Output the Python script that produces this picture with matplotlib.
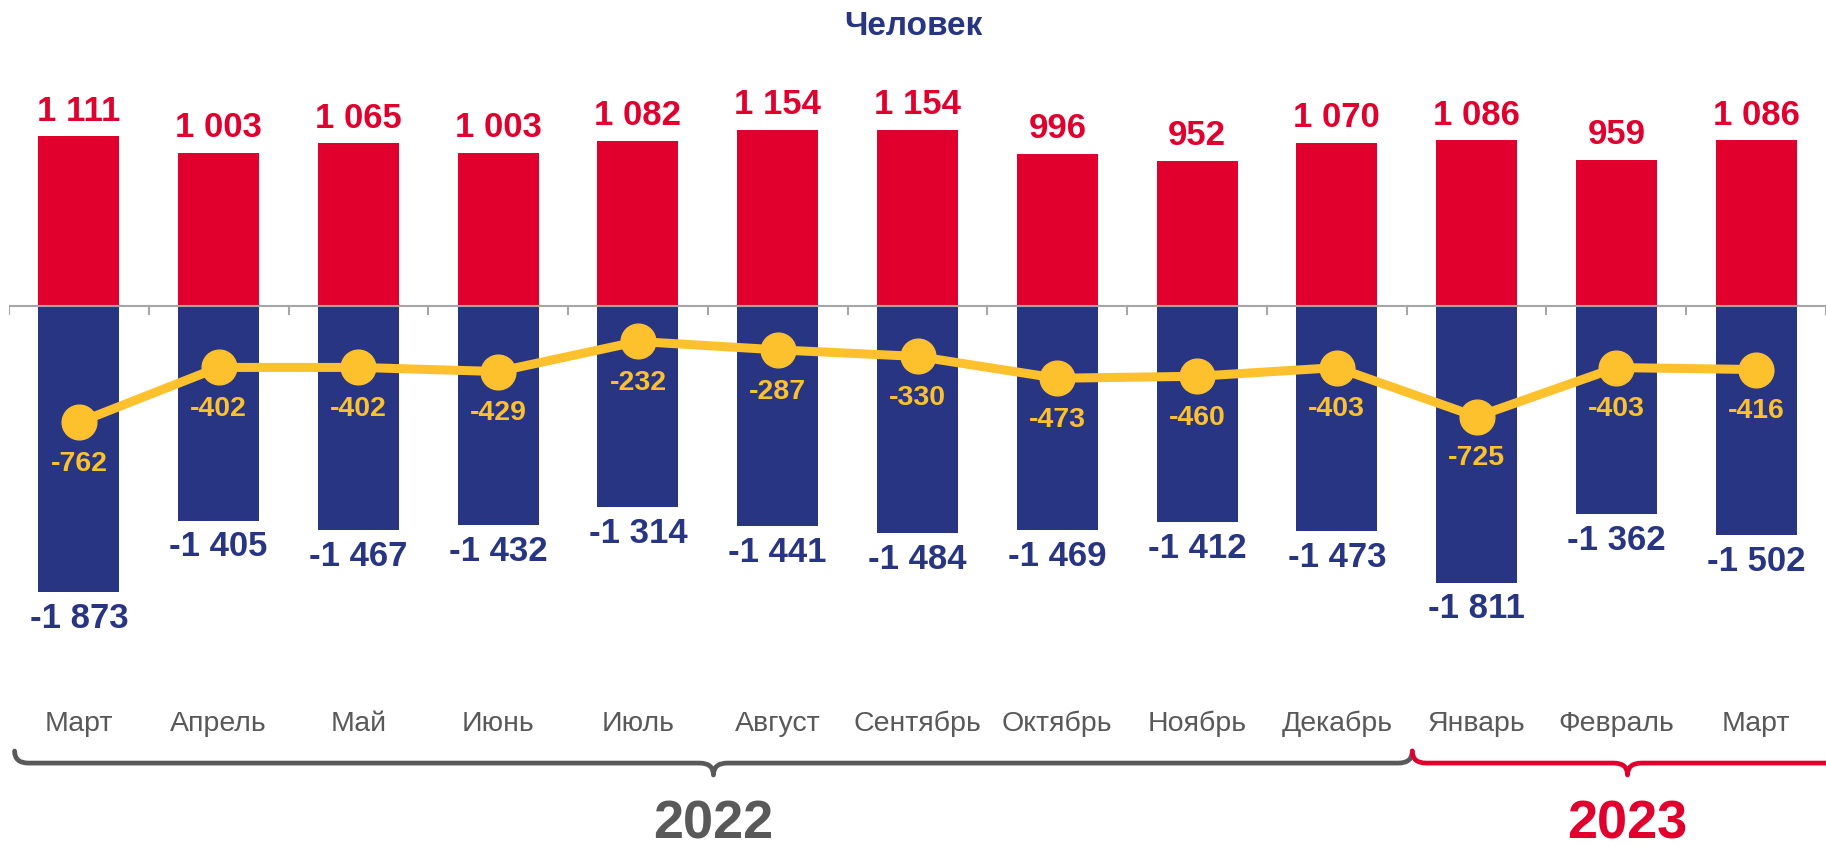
import numpy as np
import matplotlib
matplotlib.use('Agg')
import matplotlib.pyplot as plt
from matplotlib.path import Path
from matplotlib.patches import PathPatch

plt.rcParams['font.family'] = ['Liberation Sans', 'DejaVu Sans']

months = ['Март', 'Апрель', 'Май', 'Июнь', 'Июль', 'Август', 'Сентябрь',
          'Октябрь', 'Ноябрь', 'Декабрь', 'Январь', 'Февраль', 'Март']
arrivals = [1111, 1003, 1065, 1003, 1082, 1154, 1154, 996, 952, 1070, 1086, 959, 1086]
departures = [-1873, -1405, -1467, -1432, -1314, -1441, -1484, -1469, -1412, -1473, -1811, -1362, -1502]
net = [-762, -402, -402, -429, -232, -287, -330, -473, -460, -403, -725, -403, -416]
years = ['2022', '2023']
year_spans = [(0, 9), (10, 12)]

RED = '#E1002D'
NAVY = '#283583'
GOLD = '#FDC12E'
GRAY = '#595959'


def fmt(v):
    s = f'{abs(v):,}'.replace(',', ' ')
    return ('-' if v < 0 else '') + s


def brace(ax, x0, x1, y_top, y_mid, y_tip, color, r=0.1):
    xm = (x0 + x1) / 2
    verts = [(x0, y_top), (x0, y_mid), (x0 + r, y_mid),
             (xm - r, y_mid),
             (xm, y_mid), (xm, y_tip),
             (xm, y_mid), (xm + r, y_mid),
             (x1 - r, y_mid),
             (x1, y_mid), (x1, y_top)]
    codes = [Path.MOVETO, Path.CURVE3, Path.CURVE3,
             Path.LINETO,
             Path.CURVE3, Path.CURVE3,
             Path.CURVE3, Path.CURVE3,
             Path.LINETO,
             Path.CURVE3, Path.CURVE3]
    ax.add_patch(PathPatch(Path(verts, codes), fill=False, edgecolor=color,
                           lw=3.4, capstyle='round', joinstyle='round',
                           clip_on=False))


fig = plt.figure(figsize=(18.26, 8.46), dpi=100)
ax = fig.add_axes([9 / 1826, 0, 1 - 9 / 1826, 1])
x = np.arange(len(months))

ax.bar(x, arrivals, width=0.58, color=RED, zorder=2)
ax.bar(x, departures, width=0.58, color=NAVY, zorder=2)
ax.plot(x, net, color=GOLD, lw=6.5, marker='o', ms=25, zorder=4)

for i in x:
    ax.annotate(fmt(arrivals[i]), (i, arrivals[i]), xytext=(0, 18),
                textcoords='offset points', ha='center', va='center',
                color=RED, fontsize=25, fontweight='bold')
    ax.annotate(fmt(departures[i]), (i, departures[i]), xytext=(0, -19),
                textcoords='offset points', ha='center', va='center',
                color=NAVY, fontsize=25, fontweight='bold')
    ax.annotate(fmt(net[i]), (i, net[i]), xytext=(0, -30),
                textcoords='offset points', ha='center', va='center',
                color=GOLD, fontsize=20.5, fontweight='bold', zorder=5)
    ax.text(i, -2737, months[i], ha='center', va='center',
            color=GRAY, fontsize=20.5)

# zero axis with boundary ticks
ax.axhline(0, color='#A6A6A6', lw=1.5, zorder=3)
for b in np.arange(-0.5, len(months), 1.0):
    ax.plot([b, b], [0, -55], color='#A6A6A6', lw=1.5, zorder=3)

# year braces
colors = [GRAY, RED]
for (a, b), yr, c in zip(year_spans, years, colors):
    x0 = a - 0.46
    x1 = b + 0.54 if b < len(months) - 1 else b + 0.62
    brace(ax, x0, x1, -2914, -2993, -3071, c)
    ax.text((x0 + x1) / 2, -3392, yr, ha='center', va='center',
            color=c, fontsize=39, fontweight='bold')

ax.text(5.97, 1830, 'Человек', ha='center', va='center',
        color=NAVY, fontsize=24, fontweight='bold')

ax.set_xlim(-0.5, len(months) - 0.5)
ax.set_ylim(-3536, 2004)
ax.axis('off')

fig.savefig('out.png', dpi=100)
